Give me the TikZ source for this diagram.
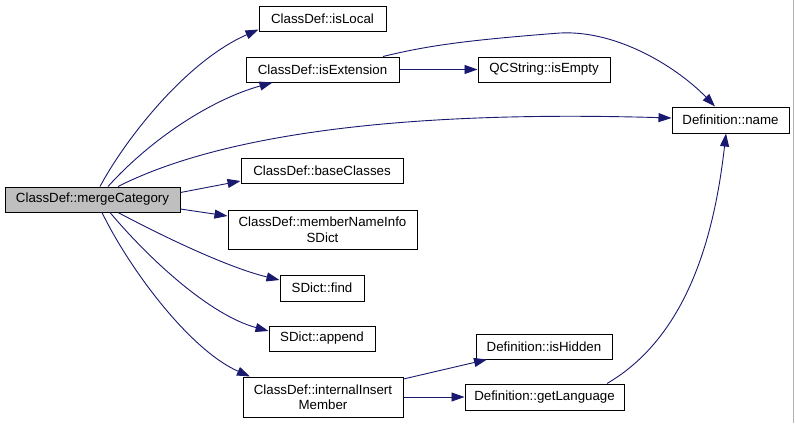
\documentclass[tikz,border=0pt]{standalone}
\usepackage{fontspec}
\setmainfont{Liberation Sans}
\usetikzlibrary{arrows.meta}
\definecolor{edgeblue}{RGB}{25,25,112}
\definecolor{mcfill}{RGB}{191,191,191}
\begin{document}
\begin{tikzpicture}[x=1pt,y=-1pt,
  fn/.style={draw=black,line width=1pt,inner sep=0pt,fill=white,align=center,
    font=\fontsize{13.3}{15.5}\selectfont},
  call/.style={draw=edgeblue,line width=0.9pt,-{Triangle[length=13pt,width=9pt]}}]
\useasboundingbox (0,0) rectangle (795,423);
\fill[white] (0,0) rectangle (795,423);
\draw[gray!60,line width=1pt] (793.5,0) -- (793.5,423);

\node[fn,fill=mcfill,minimum width=175pt,minimum height=25pt] (mc) at (92.5,199.5) {ClassDef::mergeCategory};
\node[fn,minimum width=127pt,minimum height=25pt] (isLocal) at (322.5,18.5) {ClassDef::isLocal};
\node[fn,minimum width=153pt,minimum height=25pt] (isExt) at (322.5,69.5) {ClassDef::isExtension};
\node[fn,minimum width=162pt,minimum height=25pt] (base) at (322,170.5) {ClassDef::baseClasses};
\node[fn,minimum width=189pt,minimum height=39pt] (mnis) at (322.5,229.5) {ClassDef::memberNameInfo\\SDict};
\node[fn,minimum width=84pt,minimum height=26pt] (find) at (322,288) {SDict::find};
\node[fn,minimum width=106pt,minimum height=25pt] (append) at (322,338.5) {SDict::append};
\node[fn,minimum width=160pt,minimum height=40pt] (iim) at (323,397) {ClassDef::internalInsert\\Member};
\node[fn,minimum width=132pt,minimum height=25pt] (qc) at (544,69.5) {QCString::isEmpty};
\node[fn,minimum width=117pt,minimum height=26pt] (dname) at (730.5,120) {Definition::name};
\node[fn,minimum width=136pt,minimum height=25pt] (hidden) at (544,346.5) {Definition::isHidden};
\node[fn,minimum width=159pt,minimum height=26pt] (lang) at (544.5,397) {Definition::getLanguage};

\draw[call] ([xshift=7.5pt]mc.north) .. controls (125,140) and (185,62) .. ([yshift=2pt]isLocal.south west);
\draw[call] ([xshift=15.5pt]mc.north) .. controls (150,140) and (210,100) .. ([xshift=-50pt]isExt.south);
\draw[call] ([xshift=25.5pt]mc.north) .. controls (220,135) and (400,110) .. ([yshift=2pt]dname.west);
\draw[call] ([yshift=7pt]mc.east) -- ([yshift=-10.5pt]base.west);
\draw[call] ([yshift=-9.5pt]mc.east) -- ([yshift=13.5pt]mnis.west);
\draw[call] ([xshift=25.5pt]mc.south) .. controls (170,240) and (230,268) .. ([yshift=8pt]find.west);
\draw[call] ([xshift=17.5pt]mc.south) .. controls (150,260) and (210,315) .. ([yshift=7.5pt]append.west);
\draw[call] ([xshift=9.5pt]mc.south) .. controls (130,270) and (190,350) .. ([xshift=-73pt]iim.north);
\draw[call] (isExt.east) -- (qc.west);
\draw[call] ([xshift=60.5pt]isExt.north) .. controls (430,45) and (470,40) .. (560,33) .. controls (620,30) and (680,70) .. ([xshift=-15.5pt]dname.north);
\draw[call] ([yshift=18pt]iim.east) -- ([xshift=-57pt]hidden.south);
\draw[call] (iim.east) -- (lang.west);
\draw[call] ([xshift=62.5pt]lang.north) .. controls (690,335) and (715,230) .. ([xshift=-4.5pt]dname.south);
\end{tikzpicture}
\end{document}
